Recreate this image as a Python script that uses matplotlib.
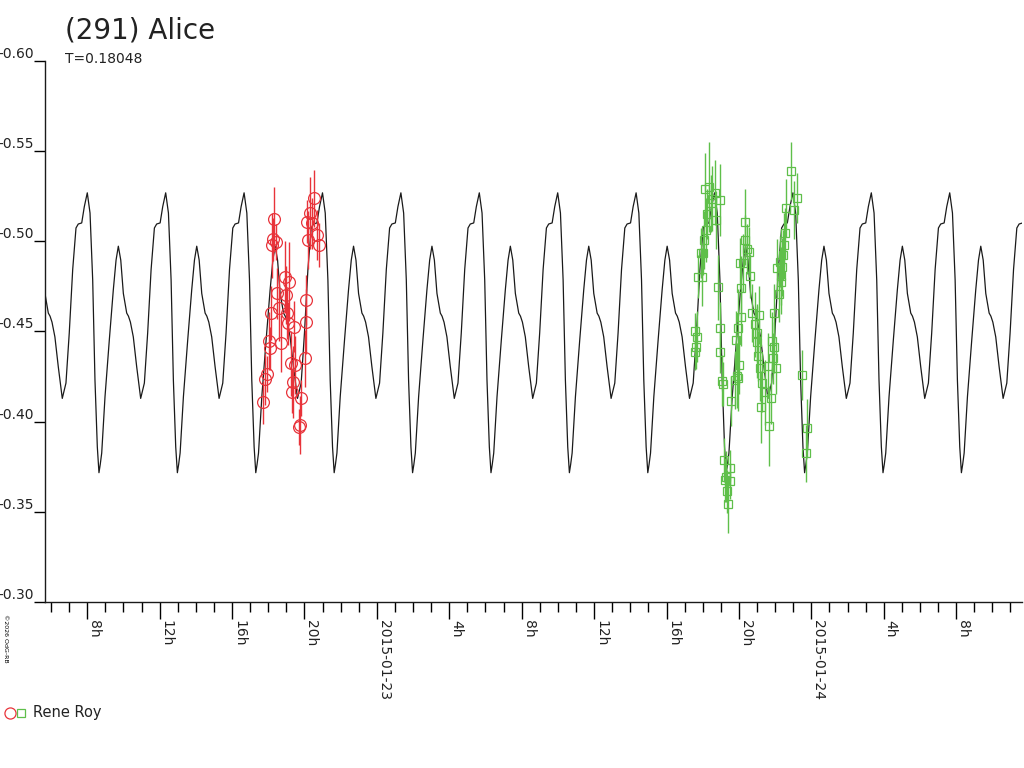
import matplotlib
matplotlib.use("Agg")
import matplotlib.pyplot as plt
from matplotlib.lines import Line2D
import numpy as np

title = "(291) Alice"
period_days = 0.18048
epoch_h = 8.0  # main maximum, hours after 2015-01-22 0h UT

# model light curve over one rotation
model_phase = [0.000, 0.035, 0.069, 0.098, 0.128, 0.149, 0.165, 0.184, 0.226, 0.281,
               0.332, 0.367, 0.396, 0.427, 0.460, 0.503, 0.525, 0.550, 0.587, 0.630,
               0.681, 0.728, 0.770, 0.814, 0.856, 0.885, 0.929, 0.962]
model_mag = [-0.5269, -0.5157, -0.4786, -0.4231, -0.3860, -0.3717, -0.3762, -0.3826, -0.4138, -0.4453,
             -0.4731, -0.4896, -0.4973, -0.4896, -0.4711, -0.4602, -0.4585, -0.4552, -0.4470, -0.4305,
             -0.4129, -0.4214, -0.4491, -0.4844, -0.5074, -0.5096, -0.5102, -0.5192]

# first night (red circles), hours after 2015-01-22 0h
red_t = [17.69, 17.82, 17.91, 18.04, 18.09, 18.13, 18.19, 18.24, 18.33, 18.41,
         18.50, 18.61, 18.70, 18.92, 18.98, 19.16, 19.02, 19.10, 19.42, 19.24,
         19.48, 19.35, 19.29, 19.81, 19.75, 19.68, 20.03, 20.08, 20.07, 20.21,
         20.15, 20.40, 20.52, 20.67, 20.81, 20.30]
red_mag = [-0.4107, -0.4235, -0.4263, -0.4447, -0.4406, -0.4601, -0.4979, -0.5011, -0.5123, -0.4998,
           -0.4711, -0.4628, -0.4434, -0.4804, -0.4702, -0.4776, -0.4601, -0.4546, -0.4527, -0.4323,
           -0.4314, -0.4221, -0.4166, -0.4130, -0.3981, -0.3969, -0.4351, -0.4555, -0.4675, -0.5007,
           -0.5108, -0.5100, -0.5238, -0.5035, -0.4979, -0.5155]
red_err = [0.012, 0.014, 0.010, 0.016, 0.012, 0.015, 0.018, 0.012, 0.018, 0.010,
           0.014, 0.018, 0.016, 0.020, 0.016, 0.022, 0.014, 0.012, 0.014, 0.018,
           0.016, 0.020, 0.012, 0.010, 0.016, 0.010, 0.016, 0.018, 0.014, 0.016,
           0.012, 0.014, 0.016, 0.014, 0.012, 0.020]

# second night (green squares)
green_t = [41.56, 41.59, 41.70, 41.74, 41.98, 41.92, 42.02, 42.20, 42.14, 42.33,
           42.25, 42.44, 42.66, 42.94, 42.75, 42.85, 42.97, 42.97, 43.05, 43.10,
           43.18, 43.49, 43.25, 43.49, 43.40, 43.55, 43.77, 43.95, 43.82, 43.95,
           44.10, 44.13, 44.23, 44.04, 44.35, 44.32, 44.56, 44.61, 44.74, 44.98,
           45.04, 45.11, 45.17, 45.22, 45.59, 45.68, 45.77, 45.85, 45.90, 45.96,
           46.03, 46.09, 46.33, 46.40, 46.45, 46.51, 46.55, 46.59, 46.88, 47.06,
           47.19, 47.47, 47.75, 47.69, 44.00, 43.90, 44.45, 45.00, 44.88, 45.28,
           45.45, 46.20, 46.25, 46.30, 45.95, 43.30, 43.35, 42.05, 42.50, 41.65]
green_mag = [-0.4385, -0.4503, -0.4471, -0.4804, -0.4804, -0.4934, -0.4934, -0.5063, -0.5288, -0.5303,
             -0.5151, -0.5210, -0.5269, -0.5228, -0.5118, -0.4745, -0.4521, -0.4388, -0.4227, -0.4209,
             -0.3787, -0.3741, -0.3676, -0.3672, -0.3541, -0.4115, -0.4231, -0.4240, -0.4452, -0.4517,
             -0.4582, -0.4739, -0.4878, -0.4878, -0.5007, -0.5108, -0.4942, -0.4808, -0.4604, -0.4443,
             -0.4364, -0.4591, -0.4296, -0.4079, -0.4309, -0.3976, -0.4129, -0.4448, -0.4351, -0.4601,
             -0.4296, -0.4851, -0.4776, -0.4859, -0.4924, -0.4979, -0.5044, -0.5186, -0.5391, -0.5174,
             -0.5241, -0.4258, -0.3963, -0.3824, -0.4315, -0.4256, -0.4958, -0.4490, -0.4540, -0.4212,
             -0.4163, -0.4710, -0.4888, -0.4808, -0.4412, -0.3695, -0.3614, -0.5007, -0.5236, -0.4412]
green_err = [0.010, 0.010, 0.014, 0.012, 0.016, 0.014, 0.012, 0.018, 0.020, 0.025,
             0.014, 0.016, 0.018, 0.020, 0.016, 0.018, 0.014, 0.012, 0.014, 0.012,
             0.012, 0.010, 0.012, 0.010, 0.016, 0.014, 0.016, 0.018, 0.016, 0.022,
             0.016, 0.018, 0.016, 0.014, 0.014, 0.018, 0.014, 0.012, 0.016, 0.020,
             0.014, 0.016, 0.018, 0.020, 0.018, 0.022, 0.014, 0.016, 0.014, 0.016,
             0.014, 0.016, 0.018, 0.016, 0.014, 0.018, 0.014, 0.016, 0.016, 0.016,
             0.014, 0.014, 0.016, 0.016, 0.016, 0.018, 0.014, 0.016, 0.018, 0.016,
             0.018, 0.016, 0.014, 0.016, 0.014, 0.014, 0.012, 0.016, 0.018, 0.012]

observer = "Rene Roy"
copyright_note = "\u00a92026 OdG-RB"

x_major = [8, 12, 16, 20, 24, 28, 32, 36, 40, 44, 48, 52, 56]
x_labels = ["8h", "12h", "16h", "20h", "2015-01-23", "4h", "8h", "12h", "16h", "20h",
            "2015-01-24", "4h", "8h"]
x_minor = list(range(6, 60))
y_ticks = [-0.60, -0.55, -0.50, -0.45, -0.40, -0.35, -0.30]
y_labels = ["-0.60", "-0.55", "-0.50", "-0.45", "-0.40", "-0.35", "-0.30"]

red = "#e8333a"
green = "#5fbf4a"

W, H = 1024, 768
fig = plt.figure(figsize=(W / 100, H / 100), dpi=100)
ax = fig.add_axes([45 / W, 1 - 602 / H, (1022 - 45) / W, (602 - 61) / H])

# repeat the model curve with the rotation period
period_h = period_days * 24
ph = np.array(model_phase)
mg = np.array(model_mag)
curve_t = np.concatenate([epoch_h + (ph + n) * period_h for n in range(-2, 15)])
curve_m = np.concatenate([mg for n in range(-2, 15)])
ax.plot(curve_t, curve_m, color="#1a1a1a", lw=0.9, zorder=1)

ax.errorbar(red_t, red_mag, yerr=red_err, fmt="o", ms=8.5, mfc="none", mec=red, mew=0.9,
            ecolor=red, elinewidth=1.0, capsize=0, zorder=3)
ax.errorbar(green_t, green_mag, yerr=green_err, fmt="s", ms=6, mfc="none", mec=green, mew=0.9,
            ecolor=green, elinewidth=1.0, capsize=0, zorder=2)

ax.set_xlim(5.664, 59.64)
ax.set_ylim(-0.30, -0.60)

for s in ["top", "right"]:
    ax.spines[s].set_visible(False)
for s in ["left", "bottom"]:
    ax.spines[s].set_linewidth(1.0)
    ax.spines[s].set_color("#1a1a1a")

ax.set_xticks(x_major)
ax.set_xticklabels(x_labels, rotation=-90, ha="left", va="top", fontsize=10, color="#222222")
ax.set_xticks(x_minor, minor=True)
ax.tick_params(axis="x", which="major", length=12, width=1.0, pad=1, direction="out")
ax.tick_params(axis="x", which="minor", length=7, width=1.0, direction="out")

ax.set_yticks(y_ticks)
ax.set_yticklabels(y_labels, fontsize=10, color="#222222")
ax.tick_params(axis="y", which="major", length=8, width=1.0, pad=0, direction="out")
for lab in ax.get_yticklabels():
    lab.set_verticalalignment("bottom")

fig.text(65 / W, 1 - 39 / H, title, fontsize=20, va="baseline", color="#222222")
fig.text(65 / W, 1 - 63 / H, f"T={period_days}", fontsize=10, va="baseline", color="#222222")
fig.text(3 / W, 1 - 614 / H, copyright_note, rotation=-90, fontsize=4.5, ha="left", va="top")

# legend
fig.add_artist(Line2D([10 / W], [1 - 713 / H], marker="o", ms=8, mfc="none", mec=red, mew=0.9,
                      transform=fig.transFigure))
fig.add_artist(Line2D([21 / W], [1 - 713 / H], marker="s", ms=6, mfc="none", mec=green, mew=0.9,
                      transform=fig.transFigure))
fig.text(33 / W, 1 - 713 / H, observer, fontsize=10.5, va="center", color="#222222")

fig.savefig("out.png", dpi=100)
